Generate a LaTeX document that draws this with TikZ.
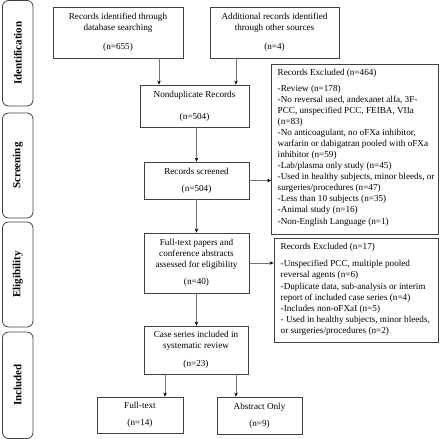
\documentclass[tikz,border=0pt]{standalone}
\usepackage{fontspec}
\setmainfont{Liberation Serif}
\usetikzlibrary{arrows.meta}
\begin{document}
\begin{tikzpicture}[x=1bp,y=-1bp,
 box/.style={draw=black!75, line width=0.8bp, inner sep=0, font=\fontsize{9.2}{11.1}\selectfont, align=center},
 ltxt/.style={font=\fontsize{9.2}{11.1}\selectfont, align=left, inner sep=0, anchor=north west},
 side/.style={draw=black!75, line width=0.8bp, rounded corners=6bp, inner sep=0, minimum width=30.5bp},
 stage/.style={font=\fontsize{11}{13}\selectfont\bfseries, rotate=90, inner sep=0},
 arr/.style={draw=black!55, line width=0.5bp, -{Stealth[length=4bp,width=3.5bp,black]}}
]
\useasboundingbox (0,0) rectangle (440,439);
% stage sidebars
\node[side, minimum height=105.5bp] (s1) at (17.75,53.25) {};
\node[stage] (t1) at (s1.center) {Identification};
\node[side, minimum height=105bp] (s2) at (17.75,165.5) {};
\node[stage] (t2) at (s2.center) {Screening};
\node[side, minimum height=105bp] (s3) at (17.75,274.5) {};
\node[stage] (t3) at (s3.center) {Eligibility};
\node[side, minimum height=106.5bp] (s4) at (17.75,385.25) {};
\node[stage] (t4) at (s4.center) {Included};
% main boxes
\node[box, minimum width=130bp, minimum height=51bp] (id1) at (118,32.5)
 {Records identified through\\database searching\\[7.5bp](n=655)};
\node[box, minimum width=129bp, minimum height=51bp] (id2) at (274.5,32.5)
 {Additional records identified\\through other sources\\[7.5bp](n=4)};
\node[box, minimum width=109bp, minimum height=42bp] (nd) at (194.5,106)
 {Nonduplicate Records\\[11bp](n=504)};
\node[box, minimum width=105bp, minimum height=37bp] (sc) at (196.5,180.5)
 {Records screened\\[6bp](n=504)};
\node[box, minimum width=105bp, minimum height=60bp] (ft) at (196.5,263)
 {Full-text papers and\\conference abstracts\\assessed for eligibility\\[5.5bp](n=40)};
\node[box, minimum width=104bp, minimum height=48bp] (cs) at (196,350)
 {Case series included in\\systematic review\\[7bp](n=23)};
\node[box, minimum width=86bp, minimum height=36bp] (fx) at (140,415)
 {Full-text\\[6bp](n=14)};
\node[box, minimum width=85bp, minimum height=37bp] (ab) at (259.5,415.5)
 {Abstract Only\\[6bp](n=9)};
% excluded boxes
\node[box, minimum width=167bp, minimum height=169.5bp] (ex1) at (355,149.25) {};
\node[ltxt] (ex1t) at (277.5,68.5) {Records Excluded (n=464)\\[5.2bp]
-Review (n=178)\\
-No reversal used, andexanet alfa, 3F-\\
PCC, unspecified PCC, FEIBA, VIIa\\
(n=83)\\
-No anticoagulant, no oFXa inhibitor,\\
warfarin or dabigatran pooled with oFXa\\
inhibitor (n=59)\\
-Lab/plasma only study (n=45)\\
-Used in healthy subjects, minor bleeds, or\\
surgeries/procedures (n=47)\\
-Less than 10 subjects (n=35)\\
-Animal study (n=16)\\
-Non-English Language (n=1)};
\node[box, minimum width=164.5bp, minimum height=103.5bp] (ex2) at (356.25,290.25) {};
\node[ltxt] (ex2t) at (280.5,243.3) {Records Excluded (n=17)\\[6bp]
-Unspecified PCC, multiple pooled\\
reversal agents (n=6)\\
-Duplicate data, sub-analysis or interim\\
report of included case series (n=4)\\
-Includes non-oFXaI (n=5)\\
- Used in healthy subjects, minor bleeds,\\
or surgeries/procedures (n=2)};
% connectors
\coordinate (c1) at (159,0);
\coordinate (c2) at (236,0);
\coordinate (c3) at (165,0);
\draw[arr] (id1.south -| c1) -- (nd.north -| c1);
\draw[arr] (id2.south -| c2) -- (nd.north -| c2);
\draw[arr] (nd.south -| sc.north) -- (sc.north);
\draw[arr] (sc.south) -- (ft.north);
\draw[arr] (ft.south) -- (cs.north -| ft.south);
\draw[arr] (sc.east) -- (ex1.west |- sc.east);
\draw[arr] (ft.east) -- (ex2.west |- ft.east);
\draw[arr] (cs.south -| c3) -- (fx.north -| c3);
\draw[arr] (cs.south -| c2) -- (ab.north -| c2);
\end{tikzpicture}
\end{document}
